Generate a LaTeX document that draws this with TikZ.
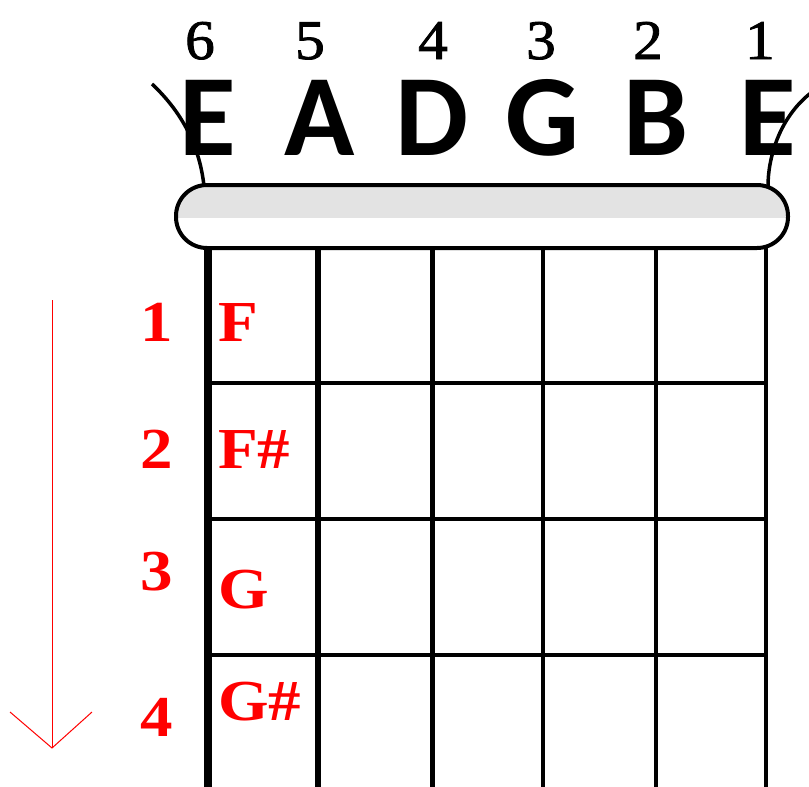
\documentclass[tikz,border=0pt]{standalone}
\usepackage{fontspec}
\newfontfamily\numfont[FakeBold=1.5, FakeStretch=1.06]{Liberation Serif}
\newfontfamily\redfont[FakeStretch=1.12]{Liberation Serif}
\newfontfamily\letfont{Carlito}
\begin{document}
\begin{tikzpicture}[x=1pt,y=-1pt,
  strnum/.style={font=\numfont\fontsize{56}{56}\selectfont, inner sep=0pt, anchor=base},
  strlet/.style={font=\letfont\bfseries\fontsize{116}{116}\selectfont, inner sep=0pt, anchor=base},
  fretnum/.style={font=\redfont\bfseries\fontsize{58}{58}\selectfont, text=red, inner sep=0pt, anchor=base},
  notelab/.style={font=\redfont\bfseries\fontsize{58}{58}\selectfont, text=red, inner sep=0pt, anchor=base west},
  fretline/.style={line width=4.5pt},
  arrowline/.style={red, line width=1pt}]
\useasboundingbox (0,0) rectangle (809,787);
% string numbers
\foreach \n/\x in {6/200,5/310,4/433,3/541,2/648,1/760}
  \node[strnum] (n\n) at (\x,59) {\n};
% strings beyond the nut
\coordinate (lt) at (152,84);
\coordinate (lb) at (204,186);
\coordinate (rt) at (812,92);
\coordinate (rb) at (768,186);
\draw[line width=3.5pt] (lt) .. controls (185,115) and (200,150) .. (lb);
\draw[line width=3.5pt] (rt) .. controls (778,118) and (768,160) .. (rb);
% letters
\foreach \l/\x/\nm in {E/208/e6,A/320/a5,D/432/d4,G/542/g3,B/656/b2,E/768/e1}
  \node[strlet] (\nm) at (\x,155) {\l};
% nut
\begin{scope}
  \clip[rounded corners=31pt] (176,185) rectangle (788,248);
  \fill[black!11] (176,185) rectangle (788,218);
\end{scope}
\draw[line width=4pt, rounded corners=31pt] (176,185) rectangle (788,248);
% strings on the neck
\foreach \x/\w in {208/8.5,318/6,432/5,543/4.5,656/4,766/3.5}
  \draw[line width=\w pt] (\x,248) -- (\x,790);
% frets
\foreach \y in {383,519,655}
  \draw[fretline] (208,\y) -- (766,\y);
% fret numbers
\node[fretnum] (f1) at (157,341) {1};
\node[fretnum] (f2) at (157,468) {2};
\node[fretnum] (f3) at (157,590) {3};
\node[fretnum] (f4) at (157,736) {4};
% notes
\node[notelab] (nF) at (218,341) {F};
\node[notelab] (nFs) at (218,468) {F\#};
\node[notelab] (nG) at (218,608) {G};
\node[notelab] (nGs) at (218,720) {G\#};
% arrow
\coordinate (at) at (52,300);
\coordinate (ab) at (52,748);
\coordinate (al) at (10,712);
\coordinate (ar) at (92,712);
\draw[arrowline] (at) -- (ab);
\draw[arrowline] (al) -- (ab) -- (ar);
\end{tikzpicture}
\end{document}
